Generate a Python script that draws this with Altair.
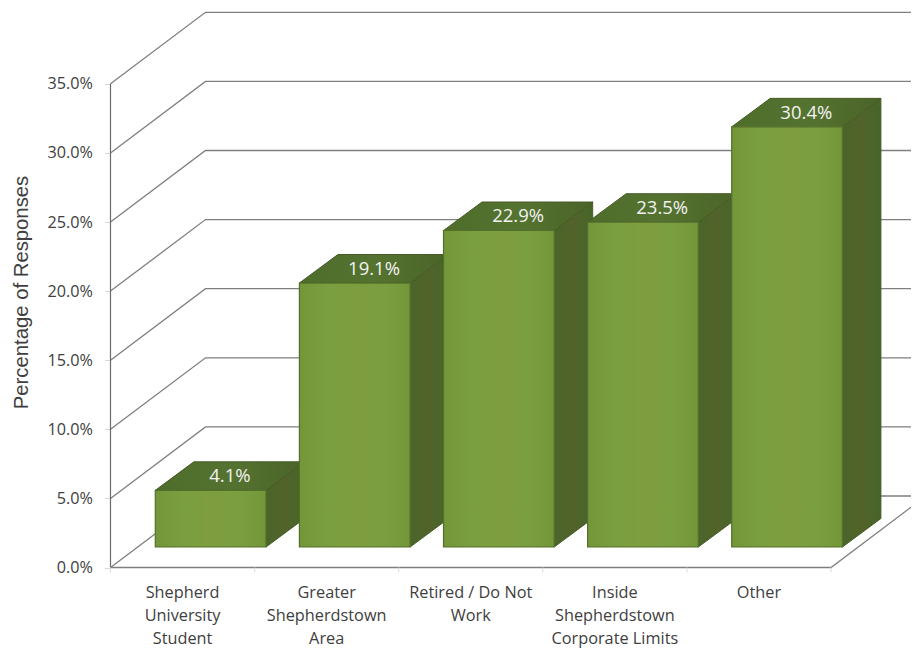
import altair as alt
import pandas as pd

categories = ["Shepherd\nUniversity\nStudent", "Greater\nShepherdstown\nArea", "Retired / Do Not\nWork",
              "Inside\nShepherdstown\nCorporate Limits", "Other"]
values = [4.1, 19.1, 22.9, 23.5, 30.4]
value_labels = ["4.1%", "19.1%", "22.9%", "23.5%", "30.4%"]
y_ticks = [0, 5, 10, 15, 20, 25, 30, 35]

# projection of the fake depth, in axis units
PX_X, PX_Y = 144.1, 13.82
PLOT_W = 800.5
XMAX = PLOT_W / PX_X
YTOP, YBOT = 559.5 / PX_Y, -80.5 / PX_Y
WALL_X, WALL_Y = 95 / PX_X, 71.5 / PX_Y
BAR_L, BAR_W = 44.8 / PX_X, 110.7 / PX_X
DEPTH_X, DEPTH_Y = 38.5 / PX_X, 28.5 / PX_Y
BASE = 20.5 / PX_Y

xs = alt.Scale(domain=[0, XMAX], nice=False, zero=False)
ys = alt.Scale(domain=[YBOT, YTOP], nice=False, zero=False)
X = lambda f="x": alt.X(f"{f}:Q", scale=xs, axis=None)
Y = lambda f="y": alt.Y(f"{f}:Q", scale=ys, axis=None)


def grad(colors, horizontal=True):
    n = len(colors) - 1
    return alt.Gradient(
        gradient="linear",
        stops=[alt.GradientStop(offset=i / n, color=c) for i, c in enumerate(colors)],
        x1=0, y1=0, x2=1 if horizontal else 0, y2=0 if horizontal else 1,
    )


grid = pd.DataFrame(
    [dict(k=v, x=x, y=y) for v in y_ticks
     for x, y in [(0, v), (WALL_X, v + WALL_Y), (XMAX, v + WALL_Y)]]
)
grid_layer = alt.Chart(grid).mark_line(color="#7f7f7f", strokeWidth=1.3).encode(
    x=X(), y=Y(), detail="k:N", order="x:Q")

floor = pd.DataFrame([dict(x=0, y=0), dict(x=5, y=0), dict(x=5 + WALL_X, y=WALL_Y)])
floor_layer = alt.Chart(floor).mark_line(color="#7f7f7f", strokeWidth=1.3, clip=True).encode(
    x=X(), y=Y(), order="x:Q")

ticks_df = pd.DataFrame({"v": y_ticks, "x": [0] * len(y_ticks)})
yaxis_layer = alt.Chart(ticks_df).mark_tick(opacity=0).encode(
    y=alt.Y("v:Q", scale=ys, axis=alt.Axis(
        values=y_ticks, labelExpr="format(datum.value / 100, '.1%')", domain=False, grid=False,
        tickColor="#d9d9d9", tickSize=6, tickWidth=1, labelPadding=12,
        labelFont="Open Sans", labelFontSize=16.2, labelColor="#404040",
        title="Percentage of Responses", titleFont="Liberation Sans", titleFontSize=20.3,
        titleFontWeight="normal", titleColor="#404040", titleX=-79.5, titleY=284, titleAngle=270)),
)

yline = pd.DataFrame({"x": [0], "y": [0], "y2": [35]})
yline_layer = alt.Chart(yline).mark_rule(color="#6b6b6b", strokeWidth=1.2).encode(
    x=X(), y=Y(), y2="y2:Q")

xticks = pd.DataFrame({"x": list(range(6)), "y": [0] * 6, "y2": [-5 / PX_Y] * 6})
xtick_layer = alt.Chart(xticks).mark_rule(color="#d9d9d9", strokeWidth=1).encode(
    x=X(), y=Y(), y2="y2:Q")

side_rows, top_rows, front_rows, label_rows = [], [], [], []
for i, (c, v, lab) in enumerate(zip(categories, values, value_labels)):
    x0 = i + BAR_L
    x1 = x0 + BAR_W
    side_rows += [dict(b=i, x=x1, y=v + BASE, y2=BASE),
                  dict(b=i, x=x1 + DEPTH_X, y=v + BASE + DEPTH_Y, y2=BASE + DEPTH_Y)]
    t = v + BASE
    top_rows += [dict(b=i, x=x0, y=t, y2=t),
                 dict(b=i, x=x0 + DEPTH_X, y=t + DEPTH_Y, y2=t),
                 dict(b=i, x=x1, y=t + DEPTH_Y, y2=t),
                 dict(b=i, x=x1 + DEPTH_X, y=t + DEPTH_Y, y2=t + DEPTH_Y)]
    front_rows.append(dict(b=i, x=x0, x2=x1, y=t, y2=BASE))
    label_rows.append(dict(x=x0 + BAR_W / 2 + DEPTH_X / 2, y=t + DEPTH_Y / 2, t=lab))

chart_layers = [yaxis_layer, grid_layer, floor_layer, yline_layer, xtick_layer]

edge = "#465a26"
for i in range(len(values)):
    s = pd.DataFrame([r for r in side_rows if r["b"] == i])
    tp = pd.DataFrame([r for r in top_rows if r["b"] == i])
    chart_layers.append(alt.Chart(s).mark_area(
        color=grad(["#4a6529", "#52632a", "#466529"]), stroke=edge, strokeWidth=1,
        interpolate="linear", orient="vertical"
    ).encode(x=X(), y=Y(), y2="y2:Q"))
    chart_layers.append(alt.Chart(tp).mark_area(
        color=grad(["#4f6d2a", "#557330", "#4a6428"]), stroke=edge, strokeWidth=1,
        interpolate="linear", orient="vertical"
    ).encode(x=X(), y=Y(), y2="y2:Q"))

front = pd.DataFrame(front_rows)
chart_layers.append(alt.Chart(front).mark_rect(
    color=grad(["#739639", "#7a9f40", "#7e9d3e", "#7a9f40", "#739639"]),
    stroke="#55702b", strokeWidth=1.2,
).encode(x=X(), x2="x2:Q", y=Y(), y2="y2:Q"))

chart_layers.append(alt.Chart(pd.DataFrame(label_rows)).mark_text(
    color="#f2f2f2", font="Open Sans", fontSize=18.5, baseline="middle", align="center"
).encode(x=X(), y=Y(), text="t:N"))

cat_df = pd.DataFrame({"x": [i + 0.5 for i in range(5)], "y": [-1.28] * 5, "t": categories})
chart_layers.append(alt.Chart(cat_df).mark_text(
    color="#404040", font="Open Sans", fontSize=16.3, baseline="top", align="center",
    lineBreak="\n", lineHeight=23,
).encode(x=X(), y=Y(), text="t:N"))

chart = alt.layer(*chart_layers).properties(
    width=PLOT_W, height=640,
    autosize=alt.AutoSizeParams(type="none"),
    padding={"left": 102.5, "top": 0, "right": 0, "bottom": 0},
).resolve_axis(y="independent").configure_view(stroke=None)

chart.save("out.html", embed_options={"renderer": "svg", "actions": False})
